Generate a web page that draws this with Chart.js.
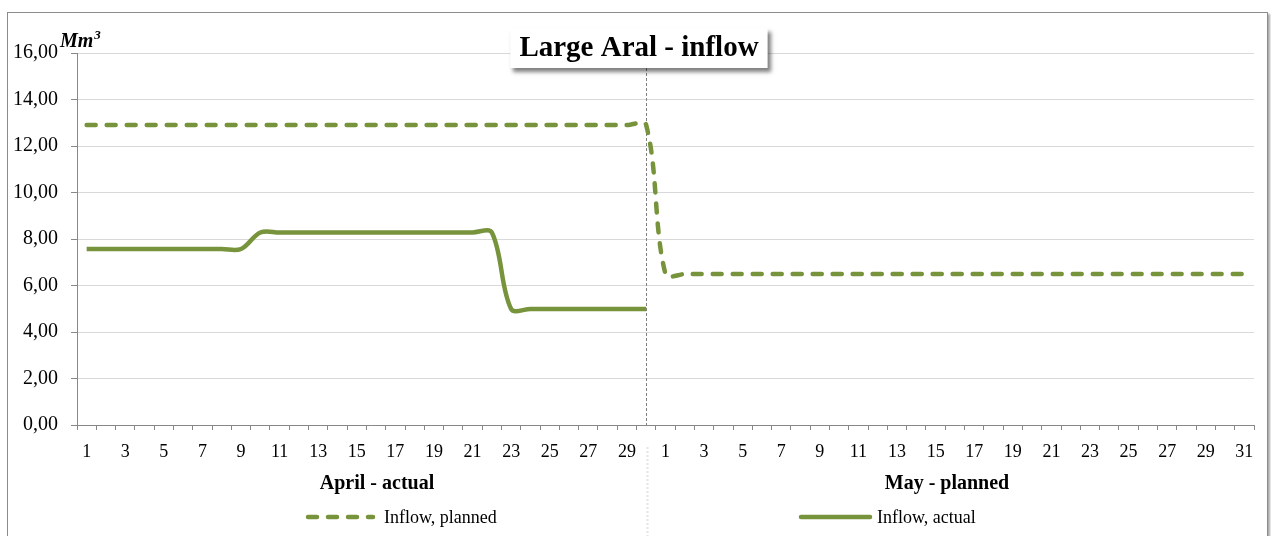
<!DOCTYPE html>
<html>
<head>
<meta charset="utf-8">
<title>Large Aral - inflow</title>
<script src="https://cdn.jsdelivr.net/npm/chart.js@4.4.1/dist/chart.umd.min.js"></script>
<style>
  html, body { margin: 0; padding: 0; background: #fff; overflow: hidden; }
  #frame {
    position: absolute; left: 7px; top: 12px; width: 1259px; height: 700px;
    border: 1px solid #8c8c8c; box-shadow: 2px 2px 2px rgba(0,0,0,0.35);
  }
  #wrap { position: absolute; left: 0; top: 0; width: 1271px; height: 536px; }
</style>
</head>
<body>
<div id="frame"></div>
<div id="wrap"><canvas id="chart" width="1271" height="536"></canvas></div>
<script>
// days of April (actual) followed by days of May (planned)
const days = [
  "1","2","3","4","5","6","7","8","9","10","11","12","13","14","15",
  "16","17","18","19","20","21","22","23","24","25","26","27","28","29","30",
  "1","2","3","4","5","6","7","8","9","10","11","12","13","14","15","16",
  "17","18","19","20","21","22","23","24","25","26","27","28","29","30","31"
];

// Inflow, planned (Mm3)
const planned = [
  12.9,12.9,12.9,12.9,12.9,12.9,12.9,12.9,12.9,12.9,12.9,12.9,12.9,12.9,12.9,
  12.9,12.9,12.9,12.9,12.9,12.9,12.9,12.9,12.9,12.9,12.9,12.9,12.9,12.9,12.9,
  6.49,6.49,6.49,6.49,6.49,6.49,6.49,6.49,6.49,6.49,6.49,6.49,6.49,6.49,6.49,6.49,
  6.49,6.49,6.49,6.49,6.49,6.49,6.49,6.49,6.49,6.49,6.49,6.49,6.49,6.49,6.49
];

// Inflow, actual (Mm3) - April only
const actual = [
  7.57,7.57,7.57,7.57,7.57,7.57,7.57,7.57,7.57,8.28,8.28,8.28,8.28,8.28,8.28,
  8.28,8.28,8.28,8.28,8.28,8.28,8.28,4.99,4.99,4.99,4.99,4.99,4.99,4.99,4.99,
  null,null,null,null,null,null,null,null,null,null,null,null,null,null,null,null,
  null,null,null,null,null,null,null,null,null,null,null,null,null,null,null
];

const groups = ["April - actual", "May - planned"];
const yTicks = { min: 0, max: 16, step: 2 };

const GREEN = "#77933c";
const SERIF = "'Liberation Serif', 'Times New Roman', serif";

// extra drawing: month divider, title box, unit, month labels, legend
const decorations = {
  id: "decorations",
  beforeDatasetsDraw(chart) {
    const { ctx, chartArea, scales } = chart;
    const x = Math.round(scales.x.getPixelForValue(29)) + 0.5;
    ctx.save();
    ctx.strokeStyle = "#7f7f7f";
    ctx.lineWidth = 1;
    ctx.setLineDash([3, 2]);
    ctx.beginPath();
    ctx.moveTo(x, chartArea.top);
    ctx.lineTo(x, chartArea.bottom);
    ctx.stroke();
    ctx.restore();
  },
  afterDraw(chart) {
    const { ctx, scales } = chart;
    ctx.save();

    // divider between month groups under the axis
    const sx = Math.round(scales.x.getPixelForValue(29)) + 1.5;
    ctx.strokeStyle = "#e3e3e3";
    ctx.lineWidth = 2;
    ctx.setLineDash([2, 2]);
    ctx.beginPath();
    ctx.moveTo(sx, 447);
    ctx.lineTo(sx, 536);
    ctx.stroke();
    ctx.setLineDash([]);

    // title box with shadow
    ctx.font = "bold 29px " + SERIF;
    const title = "Large Aral - inflow";
    const tw = ctx.measureText(title).width;
    const cx = 639, bw = tw + 18, bh = 40, by = 28;
    ctx.shadowColor = "rgba(0,0,0,0.5)";
    ctx.shadowBlur = 4;
    ctx.shadowOffsetX = 3;
    ctx.shadowOffsetY = 4;
    ctx.fillStyle = "#fff";
    ctx.fillRect(cx - bw / 2, by, bw, bh);
    ctx.shadowColor = "transparent";
    ctx.fillStyle = "#000";
    ctx.textAlign = "center";
    ctx.textBaseline = "middle";
    ctx.fillText(title, cx, by + bh / 2 + 1);

    // unit
    ctx.textAlign = "left";
    ctx.textBaseline = "alphabetic";
    ctx.font = "italic bold 20px " + SERIF;
    ctx.fillText("Mm", 60, 47);
    const mw = ctx.measureText("Mm").width;
    ctx.font = "italic bold 13px " + SERIF;
    ctx.fillText("3", 60 + mw + 1, 39);

    // month group labels
    ctx.font = "bold 20px " + SERIF;
    ctx.textAlign = "center";
    ctx.textBaseline = "middle";
    ctx.fillText(groups[0], 377, 484);
    ctx.fillText(groups[1], 947, 484);

    // legend
    const items = [
      { ds: chart.data.datasets[0], x0: 308, x1: 373, tx: 384 },
      { ds: chart.data.datasets[1], x0: 801, x1: 870, tx: 877 }
    ];
    const ly = 517;
    items.forEach(it => {
      ctx.strokeStyle = it.ds.borderColor;
      ctx.lineWidth = it.ds.borderWidth;
      ctx.lineCap = "round";
      ctx.setLineDash(it.ds.borderDash || []);
      ctx.beginPath();
      ctx.moveTo(it.x0, ly);
      ctx.lineTo(it.x1, ly);
      ctx.stroke();
      ctx.setLineDash([]);
      ctx.fillStyle = "#000";
      ctx.font = "18px " + SERIF;
      ctx.textAlign = "left";
      ctx.fillText(it.ds.label, it.tx, ly + 1);
    });
    ctx.restore();
  }
};

new Chart(document.getElementById("chart"), {
  type: "line",
  data: {
    labels: days,
    datasets: [
      {
        label: "Inflow, planned",
        data: planned,
        borderColor: GREEN,
        borderWidth: 4.5,
        borderDash: [9, 11],
        borderCapStyle: "round",
        tension: 0.35,
        pointRadius: 0,
        fill: false
      },
      {
        label: "Inflow, actual",
        data: actual,
        borderColor: GREEN,
        borderWidth: 4.5,
        borderCapStyle: "butt",
        tension: 0.35,
        pointRadius: 0,
        fill: false,
        spanGaps: false
      }
    ]
  },
  options: {
    responsive: false,
    animation: false,
    layout: { padding: { left: 0, top: 53, right: 17, bottom: 0 } },
    plugins: {
      legend: { display: false },
      title: { display: false },
      tooltip: { enabled: false }
    },
    scales: {
      x: {
        offset: true,
        grid: {
          offset: true,
          drawOnChartArea: false,
          tickLength: 5,
          tickColor: "#888"
        },
        border: { color: "#888", width: 1 },
        ticks: {
          autoSkip: false,
          maxRotation: 0,
          padding: 11,
          color: "#000",
          font: { family: SERIF, size: 18 },
          callback: function (value) {
            const d = Number(this.getLabelForValue(value));
            return d % 2 === 1 ? String(d) : "";
          }
        },
        afterFit(scale) { scale.height = 111; }
      },
      y: {
        min: yTicks.min,
        max: yTicks.max,
        grid: {
          color: "#d9d9d9",
          lineWidth: 1,
          tickLength: 6,
          tickColor: "#888"
        },
        border: { color: "#888", width: 1 },
        ticks: {
          stepSize: yTicks.step,
          padding: 13,
          color: "#000",
          font: { family: SERIF, size: 20 },
          callback: v => v.toFixed(2).replace(".", ",")
        },
        afterFit(scale) { scale.width = 77; }
      }
    }
  },
  plugins: [decorations]
});
</script>
</body>
</html>
